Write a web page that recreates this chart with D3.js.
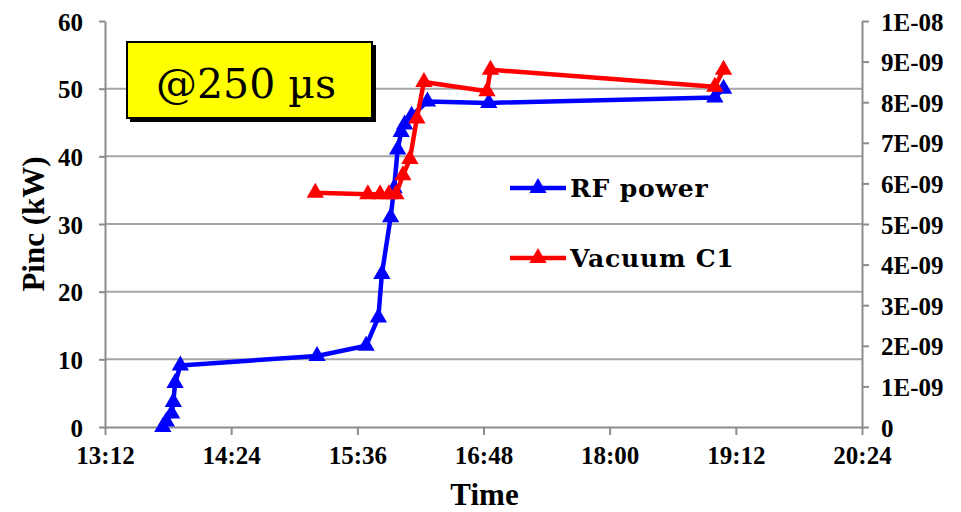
<!DOCTYPE html>
<html>
<head>
<meta charset="utf-8">
<script src="https://cdn.jsdelivr.net/npm/d3@7"></script>
<style>
  body { margin: 0; background: #fff; }
  .axis path, .axis line { stroke: #8c8c8c; stroke-width: 2px; }
  .axis text { font-family: "Liberation Serif", serif; font-weight: bold; font-size: 25px; fill: #000; }
  .title { font-family: "Liberation Serif", serif; font-weight: bold; font-size: 31px; }
  .legend { font-family: "DejaVu Serif", serif; font-weight: bold; font-size: 25px; letter-spacing: 0.8px; }
</style>
</head>
<body>
<svg id="chart" width="961" height="512"></svg>
<script>
// RF power (kW) vs time
const rfTimes = ["13:45", "13:47", "13:50", "13:51", "13:52", "13:55", "15:13", "15:41", "15:48",
  "15:50", "15:55", "15:57", "15:59", "16:01", "16:03", "16:07", "16:16", "16:51", "19:00", "19:05"];
const rfPower = [0, 0.8, 2, 3.7, 6.5, 9.1, 10.5, 12, 16.2, 22.6, 31, 35.3, 41, 43.6, 44.7, 46, 48.1, 47.9, 48.7, 50];

// Vacuum C1 vs time
const vacTimes = ["15:12", "15:42", "15:49", "15:54", "15:58", "16:02", "16:06", "16:10", "16:14",
  "16:50", "16:52", "19:00", "19:05"];
const vacPressure = [5.77e-9, 5.73e-9, 5.73e-9, 5.73e-9, 5.73e-9, 6.2e-9, 6.6e-9, 7.6e-9, 8.5e-9,
  8.27e-9, 8.8e-9, 8.38e-9, 8.8e-9];

const timeTicks = ["13:12", "14:24", "15:36", "16:48", "18:00", "19:12", "20:24"];
const powerTicks = [0, 10, 20, 30, 40, 50, 60];
const vacTicks = [0, 1e-9, 2e-9, 3e-9, 4e-9, 5e-9, 6e-9, 7e-9, 8e-9, 9e-9, 1e-8];

const toMin = (s) => { const [h, m] = s.split(":").map(Number); return h * 60 + m; };
const fmtTime = (v) => `${Math.floor(v / 60)}:${String(v % 60).padStart(2, "0")}`;
const fmtVac = (v) => {
  if (v === 0) return "0";
  const e = Math.floor(Math.log10(v) + 1e-9);
  const m = Math.round(v / Math.pow(10, e));
  return `${m}E-${String(-e).padStart(2, "0")}`;
};

const svg = d3.select("#chart");
const plotLeft = 105, plotRight = 862, plotTop = 21, plotBottom = 427;

const x = d3.scaleLinear()
  .domain([toMin(timeTicks[0]), toMin(timeTicks[timeTicks.length - 1])])
  .range([plotLeft, plotRight]);
const y = d3.scaleLinear().domain([0, 60]).range([plotBottom, plotTop]);
const y2 = d3.scaleLinear().domain([0, 1e-8]).range([plotBottom, plotTop]);

// gridlines
svg.append("g")
  .selectAll("line")
  .data(powerTicks.filter((d) => d > 0 && d < 60))
  .enter()
  .append("line")
  .attr("x1", plotLeft)
  .attr("x2", plotRight)
  .attr("y1", (d) => y(d))
  .attr("y2", (d) => y(d))
  .attr("stroke", "#a6a6a6")
  .attr("stroke-width", 2);

svg.append("g")
  .attr("class", "axis")
  .attr("transform", `translate(0, ${plotBottom})`)
  .call(d3.axisBottom(x).tickValues(timeTicks.map(toMin)).tickFormat(fmtTime).tickSize(8).tickSizeOuter(0))
  .selectAll("text")
  .attr("dy", "1.05em");

svg.append("g")
  .attr("class", "axis")
  .attr("transform", `translate(${plotLeft}, 0)`)
  .call(d3.axisLeft(y).tickValues(powerTicks).tickSize(6).tickSizeOuter(0).tickPadding(16))
  .selectAll("text")
  .attr("dy", "0.36em");

svg.append("g")
  .attr("class", "axis")
  .attr("transform", `translate(${plotRight}, 0)`)
  .call(d3.axisRight(y2).tickValues(vacTicks).tickFormat(fmtVac).tickSize(7).tickSizeOuter(0).tickPadding(12))
  .selectAll("text")
  .attr("dy", "0.36em");

// axis titles
svg.append("text")
  .attr("class", "title")
  .attr("transform", "rotate(-90)")
  .attr("x", -(plotTop + plotBottom) / 2)
  .attr("y", 44)
  .attr("text-anchor", "middle")
  .text("Pinc (kW)");

svg.append("text")
  .attr("class", "title")
  .attr("x", (plotLeft + plotRight) / 2 + 1)
  .attr("y", 505)
  .attr("text-anchor", "middle")
  .text("Time");

// annotation box
svg.append("rect")
  .attr("x", 130).attr("y", 45).attr("width", 246).attr("height", 77)
  .attr("fill", "#000");
svg.append("rect")
  .attr("x", 127).attr("y", 42).attr("width", 245).attr("height", 76)
  .attr("fill", "#ffff00")
  .attr("stroke", "#000")
  .attr("stroke-width", 2);
svg.append("text")
  .attr("x", 246).attr("y", 98)
  .attr("text-anchor", "middle")
  .style("font-family", "DejaVu Serif, serif")
  .style("font-size", "41px")
  .text("@250 µs");

const tri = d3.symbol().type(d3.symbolTriangle).size(130);

function drawSeries(times, values, yScale, color) {
  const pts = times.map((t, i) => [x(toMin(t)), yScale(values[i])]);
  svg.append("path")
    .datum(pts)
    .attr("fill", "none")
    .attr("stroke", color)
    .attr("stroke-width", 4.5)
    .attr("stroke-linejoin", "round")
    .attr("d", d3.line());
  svg.append("g")
    .selectAll("path")
    .data(pts)
    .enter()
    .append("path")
    .attr("d", tri)
    .attr("fill", color)
    .attr("transform", (d) => `translate(${d[0]}, ${d[1]})`);
}

drawSeries(rfTimes, rfPower, y, "#0000ff");
drawSeries(vacTimes, vacPressure, y2, "#ff0000");

// legend
const legendItems = [
  { label: "RF power", color: "#0000ff", y: 188 },
  { label: "Vacuum C1", color: "#ff0000", y: 258 }
];
legendItems.forEach((d) => {
  svg.append("line")
    .attr("x1", 510).attr("x2", 566)
    .attr("y1", d.y).attr("y2", d.y)
    .attr("stroke", d.color)
    .attr("stroke-width", 4.5);
  svg.append("path")
    .attr("d", tri)
    .attr("fill", d.color)
    .attr("transform", `translate(538, ${d.y})`);
  svg.append("text")
    .attr("class", "legend")
    .attr("x", 570)
    .attr("y", d.y + 9)
    .text(d.label);
});
</script>
</body>
</html>
